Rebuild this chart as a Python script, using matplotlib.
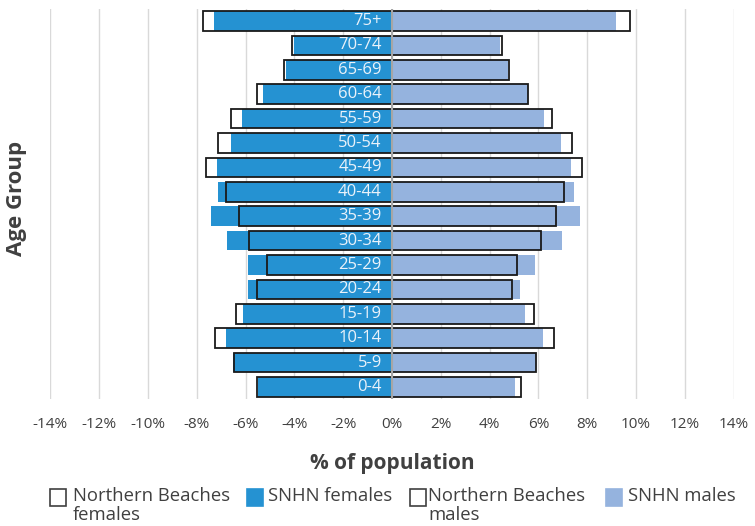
import matplotlib
matplotlib.use("Agg")
import matplotlib.pyplot as plt
from matplotlib.patches import Rectangle
from matplotlib.ticker import FuncFormatter, MultipleLocator

plt.rcParams['font.family'] = ['Open Sans', 'DejaVu Sans']

age_groups = ["0-4", "5-9", "10-14", "15-19", "20-24", "25-29", "30-34", "35-39",
              "40-44", "45-49", "50-54", "55-59", "60-64", "65-69", "70-74", "75+"]
snhn_females = [5.48, 6.53, 6.79, 6.09, 5.90, 5.91, 6.75, 7.41,
                7.14, 7.17, 6.60, 6.13, 5.27, 4.36, 4.00, 7.28]
nb_females = [5.55, 6.46, 7.24, 6.41, 5.55, 5.11, 5.87, 6.26,
              6.80, 7.64, 7.14, 6.60, 5.52, 4.41, 4.11, 7.73]
snhn_males = [5.04, 5.89, 6.20, 5.46, 5.23, 5.86, 6.97, 7.69,
              7.47, 7.32, 6.93, 6.24, 5.57, 4.77, 4.44, 9.17]
nb_males = [5.29, 5.91, 6.65, 5.81, 4.92, 5.11, 6.09, 6.73,
            7.05, 7.79, 7.39, 6.54, 5.59, 4.80, 4.51, 9.74]

C_F = "#2592d2"
C_M = "#95b3de"
TXT = "#404040"

fig = plt.figure(figsize=(7.55, 5.26), dpi=100)
ax = fig.add_axes([50.4 / 755, 126.8 / 526, 683.2 / 755, 390.4 / 526])

y = list(range(len(age_groups)))
h = 0.8
ax.barh(y, [-v for v in snhn_females], height=h, color=C_F, zorder=2)
ax.barh(y, snhn_males, height=h, color=C_M, zorder=2)
ax.barh(y, [-v for v in nb_females], height=h, facecolor='none', edgecolor='#1a1a1a', linewidth=1.3, zorder=3)
ax.barh(y, nb_males, height=h, facecolor='none', edgecolor='#1a1a1a', linewidth=1.3, zorder=3)

for yi, lab in zip(y, age_groups):
    ax.text(-0.42, yi, lab, ha='right', va='center', color='#eaf2fa', fontsize=12, zorder=5)

ax.axvline(0, color='#a6a6a6', linewidth=1.5, zorder=4)
ax.set_xlim(-14, 14)
ax.set_ylim(-0.5, len(age_groups) - 0.5)
ax.xaxis.set_major_locator(MultipleLocator(2))
ax.xaxis.set_major_formatter(FuncFormatter(lambda v, p: f"{int(round(v))}%".replace("\u2212", "-")))
ax.grid(axis='x', color='#d9d9d9', linewidth=1, zorder=0)
ax.set_axisbelow(True)
ax.set_yticks([])
ax.tick_params(axis='x', length=0, pad=13, labelsize=11, labelcolor=TXT)
for s in ax.spines.values():
    s.set_visible(False)

ax.set_xlabel("% of population", fontsize=15, fontweight='bold', color=TXT, labelpad=15)
fig.text(17 / 755, 1 - 198 / 526, "Age Group", rotation=90, ha='center', va='center',
         fontsize=16, fontweight='bold', color=TXT)

# legend (manual)
W, H = 755, 526
entries = [
    (50, 'none', '#404040', "Northern Beaches\nfemales", 73),
    (247, C_F, C_F, "SNHN females", 268),
    (410, 'none', '#404040', "Northern Beaches\nmales", 428),
    (606, C_M, C_M, "SNHN males", 628),
]
for x0, fc, ec, lab, tx in entries:
    fig.patches.append(Rectangle((x0 / W, 1 - 506 / H), 16 / W, 17 / H, transform=fig.transFigure,
                                 facecolor=fc, edgecolor=ec, linewidth=1.2))
    fig.text(tx / W, 1 - 487 / H, lab, ha='left', va='top', fontsize=13.3, color=TXT, linespacing=1.05)

fig.savefig("out.png", dpi=100)
